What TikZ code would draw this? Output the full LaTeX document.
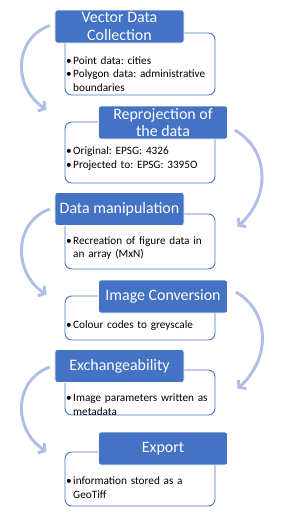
\documentclass[tikz,border=0pt]{standalone}
\usepackage{fontspec}
\setmainfont{Carlito}
\usepackage{xcolor}
\usepackage{tikz}
\usetikzlibrary{arrows.meta, calc}

\definecolor{stageblue}{RGB}{68,114,196}
\definecolor{arcblue}{RGB}{174,190,228}

\newcommand{\bitem}[1]{\par\noindent\hangindent=0.21cm\hangafter=1\makebox[0.21cm][l]{\textbullet}#1\par}
\frenchspacing

\begin{document}
\begin{tikzpicture}[x=0.03cm, y=-0.03cm,
    stage/.style={rectangle, fill=stageblue, draw=white, line width=0.5pt, rounded corners=0.08cm, minimum width=3.87cm, minimum height=0.99cm, text=white, align=center, inner sep=0pt, font=\fontsize{13.6}{15}\selectfont},
    panel/.style={rectangle, draw=stageblue, fill=white, line width=0.8pt, rounded corners=0.2cm, minimum width=4.5cm, inner sep=0pt},
    notes/.style={anchor=west, text width=4.5cm, inner sep=0pt, font=\fontsize{9.6}{11.6}\selectfont},
    flowarc/.style={draw=arcblue, line width=2.5pt, -{Straight Barb[length=4pt, width=10pt]}}
]
    \useasboundingbox (0,0) rectangle (300,530);

    % panels behind the headings
    \node [panel, minimum height=1.86cm] (collP) at (140,64) {};
    \node [panel, minimum height=1.83cm] (repP) at (140,152.5) {};
    \node [panel, minimum height=1.65cm] (manP) at (140,241.5) {};
    \node [panel, minimum height=1.32cm] (convP) at (140,318) {};
    \node [panel, minimum height=1.35cm] (exchP) at (140,392.5) {};
    \node [panel, minimum height=1.62cm] (expP) at (140,479) {};

    % headings
    \node [stage] (collT) at (119.5,26.5) {Vector Data\\Collection};
    \node [stage] (repT) at (163,122.5) {Reprojection of\\the data};
    \node [stage] (manT) at (119.5,209) {Data manipulation};
    \node [stage] (convT) at (163,296.5) {Image Conversion};
    \node [stage] (exchT) at (119.5,366) {Exchangeability};
    \node [stage] (expT) at (163,448.5) {Export};

    % bullet texts
    \node [notes] (collN) at (66,71) {\bitem{Point data: cities}\bitem{Polygon data: administrative\newline boundaries}};
    \node [notes] (repN) at (66,155.5) {\bitem{Original: EPSG: 4326}\bitem{Projected to: EPSG: 3395O}};
    \node [notes] (manN) at (66,245) {\bitem{Recreation of figure data in\newline an array (MxN)}};
    \node [notes] (convN) at (66,323) {\bitem{Colour codes to greyscale}};
    \node [notes] (exchN) at (66,401.5) {\bitem{Image parameters written as\newline metadata}};
    \node [notes] (expN) at (66,484.5) {\bitem{information stored as a\newline GeoTiff}};

    % curved arrows
    \draw [flowarc] ($(collT.west)+(-5,-1)$) .. controls +(-36,13) and +(-34,-22) .. ($(repP.north west)+(-18,-12)$);
    \draw [flowarc] ($(repT.east)+(7,7.5)$) .. controls +(35,20) and +(33,-29) .. ($(manP.north east)+(22,13)$);
    \draw [flowarc] ($(manT.west)+(-5,0)$) .. controls +(-36,13) and +(-34,-22) .. ($(convP.north west)+(-18,-1)$);
    \draw [flowarc] ($(convT.east)+(8,-4.5)$) .. controls +(35,20) and +(33,-29) .. ($(exchP.north east)+(22,19)$);
    \draw [flowarc] ($(exchT.west)+(-5,1)$) .. controls +(-36,13) and +(-34,-22) .. ($(expP.north west)+(-18,0)$);
\end{tikzpicture}
\end{document}
